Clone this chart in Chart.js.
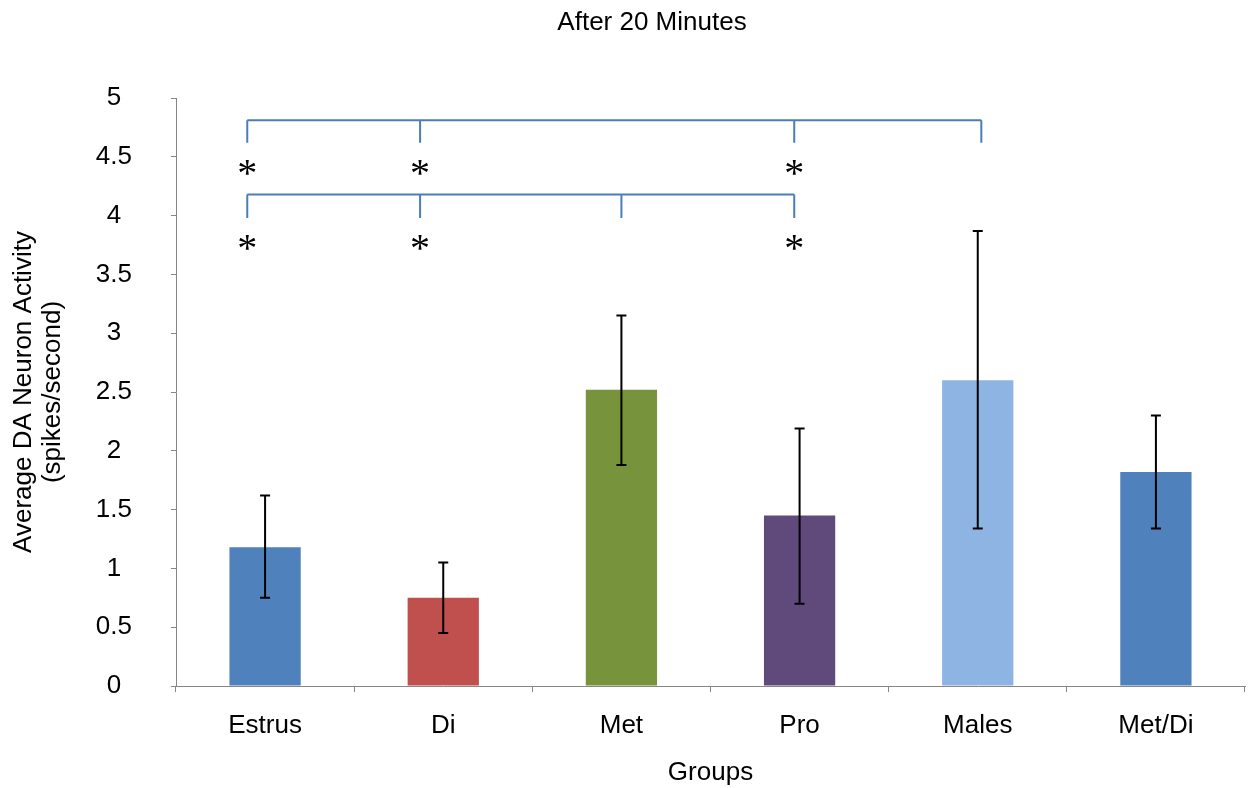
<!DOCTYPE html>
<html>
<head>
<meta charset="utf-8">
<script src="https://cdn.jsdelivr.net/npm/chart.js@4/dist/chart.umd.min.js"></script>
<style>
  html, body { margin: 0; padding: 0; background: #fff; }
  #wrap { width: 1254px; height: 788px; }
</style>
</head>
<body>
<div id="wrap"><canvas id="chart"></canvas></div>
<script>
// data
const groups = ['Estrus', 'Di', 'Met', 'Pro', 'Males', 'Met/Di'];
const means = [1.18, 0.75, 2.52, 1.45, 2.60, 1.82];
const errLow = [0.75, 0.45, 1.88, 0.70, 1.34, 1.34];
const errHigh = [1.62, 1.05, 3.15, 2.19, 3.87, 2.30];
const barColors = ['#4f81bd', '#c0504d', '#77933c', '#604a7b', '#8eb4e3', '#4f81bd'];

// significance brackets: x in category index units, y in data units
const brackets = [
  { y: 4.81, drop: 4.62, xs: [-0.1, 0.87, 2.97, 4.02], star: 4.40, stars: [-0.1, 0.87, 2.97] },
  { y: 4.18, drop: 3.98, xs: [-0.1, 0.87, 2.0, 2.97], star: 3.76, stars: [-0.1, 0.87, 2.97] }
];

const FONT = '"Liberation Sans", Arial, sans-serif';

const errorBars = {
  id: 'errorBars',
  afterDatasetsDraw(chart) {
    const { ctx, scales: { x, y } } = chart;
    ctx.save();
    ctx.strokeStyle = '#000';
    ctx.lineWidth = 2;
    groups.forEach((g, i) => {
      const px = x.getPixelForValue(i);
      const top = y.getPixelForValue(errHigh[i]);
      const bot = y.getPixelForValue(errLow[i]);
      ctx.beginPath();
      ctx.moveTo(px, top); ctx.lineTo(px, bot);
      ctx.moveTo(px - 5, top); ctx.lineTo(px + 5, top);
      ctx.moveTo(px - 5, bot); ctx.lineTo(px + 5, bot);
      ctx.stroke();
    });
    ctx.restore();
  }
};

const sigBrackets = {
  id: 'sigBrackets',
  afterDatasetsDraw(chart) {
    const { ctx, scales: { x, y } } = chart;
    ctx.save();
    ctx.strokeStyle = '#4a7ebb';
    ctx.lineWidth = 2;
    ctx.font = '40px "Liberation Serif"';
    ctx.fillStyle = '#000';
    ctx.textAlign = 'center';
    ctx.textBaseline = 'alphabetic';
    brackets.forEach(b => {
      const yTop = y.getPixelForValue(b.y);
      const yDrop = y.getPixelForValue(b.drop);
      const x0 = x.getPixelForValue(b.xs[0]);
      const x1 = x.getPixelForValue(b.xs[b.xs.length - 1]);
      ctx.beginPath();
      ctx.moveTo(x0, yTop); ctx.lineTo(x1, yTop);
      b.xs.forEach(v => {
        const px = x.getPixelForValue(v);
        ctx.moveTo(px, yTop); ctx.lineTo(px, yDrop);
      });
      ctx.stroke();
      b.stars.forEach(v => {
        ctx.fillText('*', x.getPixelForValue(v), y.getPixelForValue(b.star) + 17);
      });
    });
    ctx.restore();
  }
};

const topTitle = {
  id: 'topTitle',
  afterDraw(chart) {
    const { ctx } = chart;
    ctx.save();
    ctx.font = '26px ' + FONT;
    ctx.fillStyle = '#000';
    ctx.textAlign = 'center';
    ctx.textBaseline = 'middle';
    ctx.fillText('After 20 Minutes', 652, 23);
    ctx.restore();
  }
};

new Chart(document.getElementById('chart'), {
  type: 'bar',
  data: {
    labels: groups,
    datasets: [{
      data: means,
      backgroundColor: barColors,
      borderWidth: 0,
      categoryPercentage: 1.0,
      barPercentage: 0.4
    }]
  },
  options: {
    responsive: true,
    maintainAspectRatio: false,
    animation: false,
    layout: { padding: { left: 0, right: 9, top: 98, bottom: 0 } },
    plugins: {
      legend: { display: false },
      tooltip: { enabled: false }
    },
    scales: {
      x: {
        afterFit: s => { s.height = 102; },
        grid: { drawOnChartArea: false, tickLength: 6, color: '#868686' },
        border: { color: '#868686' },
        ticks: { color: '#000', font: { family: FONT, size: 26 }, padding: 18 },
        title: {
          display: true, text: 'Groups', color: '#000',
          font: { family: FONT, size: 26 },
          padding: { top: 0, bottom: 0 }
        }
      },
      y: {
        min: 0, max: 5,
        afterFit: s => { s.width = 176; },
        grid: { drawOnChartArea: false, tickLength: 5, color: '#868686' },
        border: { color: '#868686' },
        ticks: {
          stepSize: 0.5, color: '#000', crossAlign: 'center', padding: 39,
          font: { family: FONT, size: 26 },
          callback: v => String(v)
        },
        title: {
          display: true, text: ['Average DA Neuron Activity', '(spikes/second)'], color: '#000',
          font: { family: FONT, size: 26, lineHeight: 1.1 },
          padding: { top: 10, bottom: 0 }
        }
      }
    }
  },
  plugins: [errorBars, sigBrackets, topTitle]
});
</script>
</body>
</html>
